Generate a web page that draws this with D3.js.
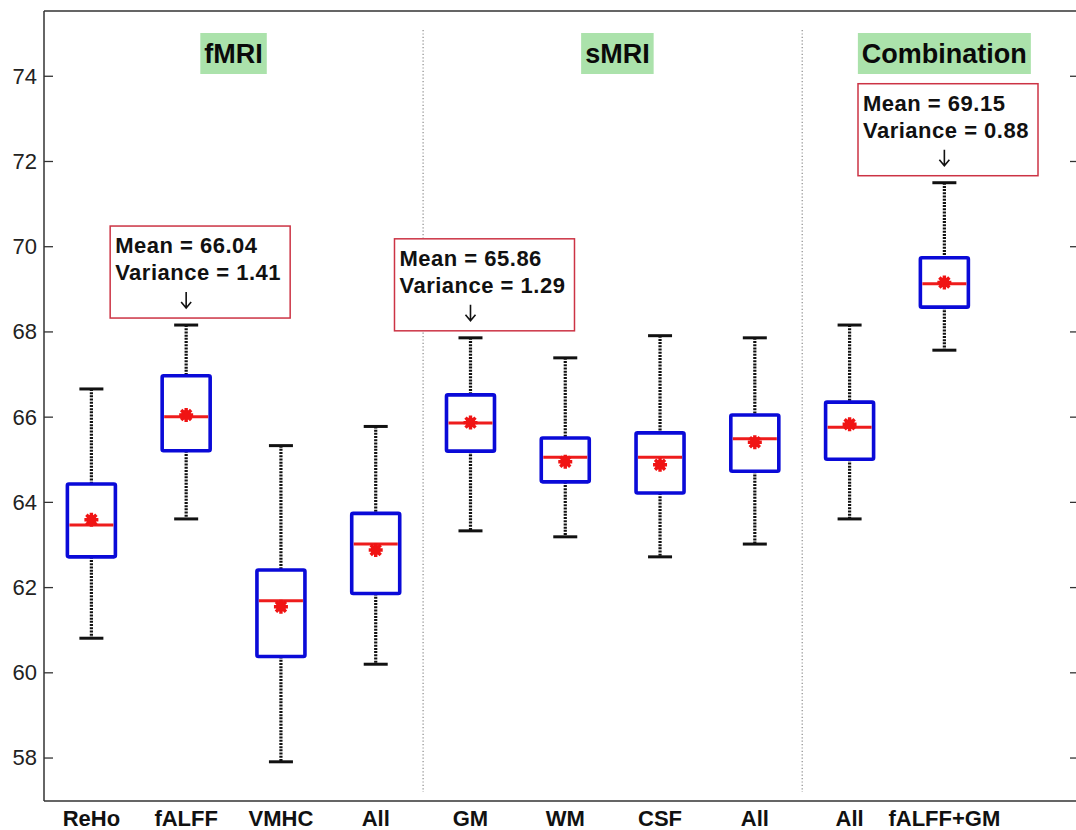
<!DOCTYPE html>
<html>
<head>
<meta charset="utf-8">
<script src="https://cdn.jsdelivr.net/npm/d3@7/dist/d3.min.js"></script>
<style>
  body { margin: 0; background: #fff; }
  svg { display: block; font-family: "Liberation Sans", Arial, sans-serif; }
</style>
</head>
<body>
<script>
// values
var categories = ["ReHo", "fALFF", "VMHC", "All", "GM", "WM", "CSF", "All", "All", "fALFF+GM"];
var lowWhisker  = [60.80, 63.60, 57.90, 60.19, 63.32, 63.18, 62.71, 63.01, 63.60, 67.56];
var q1          = [62.71, 65.20, 60.37, 61.85, 65.19, 64.47, 64.21, 64.72, 65.00, 68.57];
var medians     = [63.46, 66.00, 61.68, 63.01, 65.85, 65.05, 65.05, 65.48, 65.75, 69.12];
var q3          = [64.42, 66.96, 62.40, 63.73, 66.51, 65.50, 65.62, 66.04, 66.34, 69.73];
var highWhisker = [66.65, 68.15, 65.32, 65.77, 67.85, 67.38, 67.90, 67.85, 68.15, 71.49];
var means       = [63.58, 66.04, 61.54, 62.87, 65.86, 64.94, 64.87, 65.40, 65.82, 69.15];

var groupNames  = ["fMRI", "sMRI", "Combination"];
var groupCenter = [2.5, 6.55, 10];
var separators  = [4.5, 8.5];

var annotIndex  = [1, 4, 9];
var annotMean   = ["66.04", "65.86", "69.15"];
var annotVar    = ["1.41", "1.29", "0.88"];

var yTicks = [58, 60, 62, 64, 66, 68, 70, 72, 74];

var width = 1076, height = 830;
// plot frame ("top" is reserved on window, so use other names)
var pL = 44, pR = 1078, pT = 11, pB = 801;

var svg = d3.select("body").append("svg")
    .attr("width", width)
    .attr("height", height);

var x = d3.scaleLinear().domain([0.5, 11.41]).range([pL, pR]);
var y = d3.scaleLinear().domain([56.98, 75.52]).range([pB, pT]);

// frame
svg.append("path")
    .attr("d", "M" + pL + "," + pT + "H" + pR + "M" + pL + "," + pB + "H" + pR)
    .attr("stroke", "#333").attr("stroke-width", 1.5).attr("fill", "none");

// left axis, ticks inside
var yAxis = d3.axisRight(y).tickValues(yTicks).tickSize(9).tickFormat("");
var ga = svg.append("g").attr("transform", "translate(" + pL + ",0)").call(yAxis);
ga.select(".domain").attr("d", "M0," + pT + "V" + pB).attr("stroke", "#333").attr("stroke-width", 1.5);
ga.selectAll(".tick line").attr("stroke", "#333").attr("stroke-width", 1.3);

// right ticks
var yAxisR = d3.axisLeft(y).tickValues(yTicks).tickSize(8).tickFormat("");
var gr = svg.append("g").attr("transform", "translate(" + pR + ",0)").call(yAxisR);
gr.select(".domain").remove();
gr.selectAll(".tick line").attr("stroke", "#333").attr("stroke-width", 1.3);

svg.selectAll(".ylab").data(yTicks).enter().append("text")
    .attr("x", 37).attr("y", function(d){ return y(d); })
    .attr("dy", "0.36em").attr("text-anchor", "end")
    .attr("font-size", 22).attr("fill", "#222")
    .text(function(d){ return d; });

// separators
svg.selectAll(".sep").data(separators).enter().append("line")
    .attr("x1", function(d){ return x(d); }).attr("x2", function(d){ return x(d); })
    .attr("y1", 30).attr("y2", 792)
    .attr("stroke", "#8a8a8a").attr("stroke-width", 1.2).attr("stroke-dasharray", "1.2,2.2");

// group labels
groupNames.forEach(function(name, i){
    var g = svg.append("g");
    var t = g.append("text")
        .attr("x", x(groupCenter[i])).attr("y", 63)
        .attr("text-anchor", "middle").attr("font-size", 27).attr("font-weight", "bold")
        .attr("fill", "#0a0a0a").text(name);
    var bb = t.node().getBBox();
    g.insert("rect", "text")
        .attr("x", bb.x - 4).attr("y", 33).attr("width", bb.width + 8).attr("height", 41)
        .attr("fill", "#abe2ab");
});

// x labels
svg.selectAll(".xlab").data(categories).enter().append("text")
    .attr("x", function(d, i){ return x(i + 1); }).attr("y", 826)
    .attr("text-anchor", "middle").attr("font-size", 22).attr("font-weight", "bold")
    .attr("fill", "#111").text(function(d){ return d; });

// boxes
var bw = 24, cw = 12;
var boxes = svg.selectAll(".box").data(categories).enter().append("g")
    .attr("transform", function(d, i){ return "translate(" + x(i + 1) + ",0)"; });

boxes.append("line").attr("class", "whisk")
    .attr("y1", function(d, i){ return y(highWhisker[i]); })
    .attr("y2", function(d, i){ return y(q3[i]); });
boxes.append("line").attr("class", "whisk")
    .attr("y1", function(d, i){ return y(q1[i]); })
    .attr("y2", function(d, i){ return y(lowWhisker[i]); });
boxes.selectAll(".whisk").attr("x1", 0).attr("x2", 0)
    .attr("stroke", "#111").attr("stroke-width", 3.2).attr("stroke-dasharray", "2,1.2");

boxes.append("line")
    .attr("x1", -cw).attr("x2", cw)
    .attr("y1", function(d, i){ return y(highWhisker[i]); })
    .attr("y2", function(d, i){ return y(highWhisker[i]); })
    .attr("stroke", "#111").attr("stroke-width", 3);
boxes.append("line")
    .attr("x1", -cw).attr("x2", cw)
    .attr("y1", function(d, i){ return y(lowWhisker[i]); })
    .attr("y2", function(d, i){ return y(lowWhisker[i]); })
    .attr("stroke", "#111").attr("stroke-width", 3);

boxes.append("rect")
    .attr("x", -bw).attr("width", 2 * bw)
    .attr("y", function(d, i){ return y(q3[i]); })
    .attr("height", function(d, i){ return y(q1[i]) - y(q3[i]); })
    .attr("fill", "#fff").attr("stroke", "#0a0ad8").attr("stroke-width", 3.6)
    .attr("rx", 1.5);

boxes.append("line")
    .attr("x1", -bw + 2).attr("x2", bw - 2)
    .attr("y1", function(d, i){ return y(medians[i]); })
    .attr("y2", function(d, i){ return y(medians[i]); })
    .attr("stroke", "#ee1c1c").attr("stroke-width", 3);

// mean asterisk
var star = "M-7,0H7M0,-7V7M-5,-5L5,5M-5,5L5,-5";
boxes.append("circle")
    .attr("cy", function(d, i){ return y(means[i]); })
    .attr("r", 5).attr("fill", "#f01414");
boxes.append("path")
    .attr("transform", function(d, i){ return "translate(0," + y(means[i]) + ")"; })
    .attr("d", star).attr("stroke", "#f01414").attr("stroke-width", 3.4).attr("fill", "none");

// annotations
var aw = 180, ah = 92;
annotIndex.forEach(function(k, j){
    var cx = x(k + 1);
    var bot = y(highWhisker[k]) - 7;
    var t0 = bot - ah;
    var lx = Math.min(cx - 76, pR - 40 - aw);
    var g = svg.append("g");
    g.append("rect").attr("x", lx).attr("y", t0).attr("width", aw).attr("height", ah)
        .attr("fill", "#fff").attr("stroke", "#cc3344").attr("stroke-width", 1.5);
    g.append("text").attr("x", lx + 5).attr("y", t0 + 27)
        .attr("font-size", 22).attr("font-weight", "bold").attr("letter-spacing", 0.5)
        .attr("fill", "#111")
        .text("Mean = " + annotMean[j]);
    g.append("text").attr("x", lx + 5).attr("y", t0 + 54)
        .attr("font-size", 22).attr("font-weight", "bold").attr("letter-spacing", 0.5)
        .attr("fill", "#111")
        .text("Variance = " + annotVar[j]);
    g.append("path")
        .attr("d", "M" + cx + "," + (t0 + 66) + "V" + (t0 + 82) +
                   "M" + (cx - 5) + "," + (t0 + 76) + "L" + cx + "," + (t0 + 82) + "L" + (cx + 5) + "," + (t0 + 76))
        .attr("stroke", "#111").attr("stroke-width", 1.6).attr("fill", "none");
});
</script>
</body>
</html>
